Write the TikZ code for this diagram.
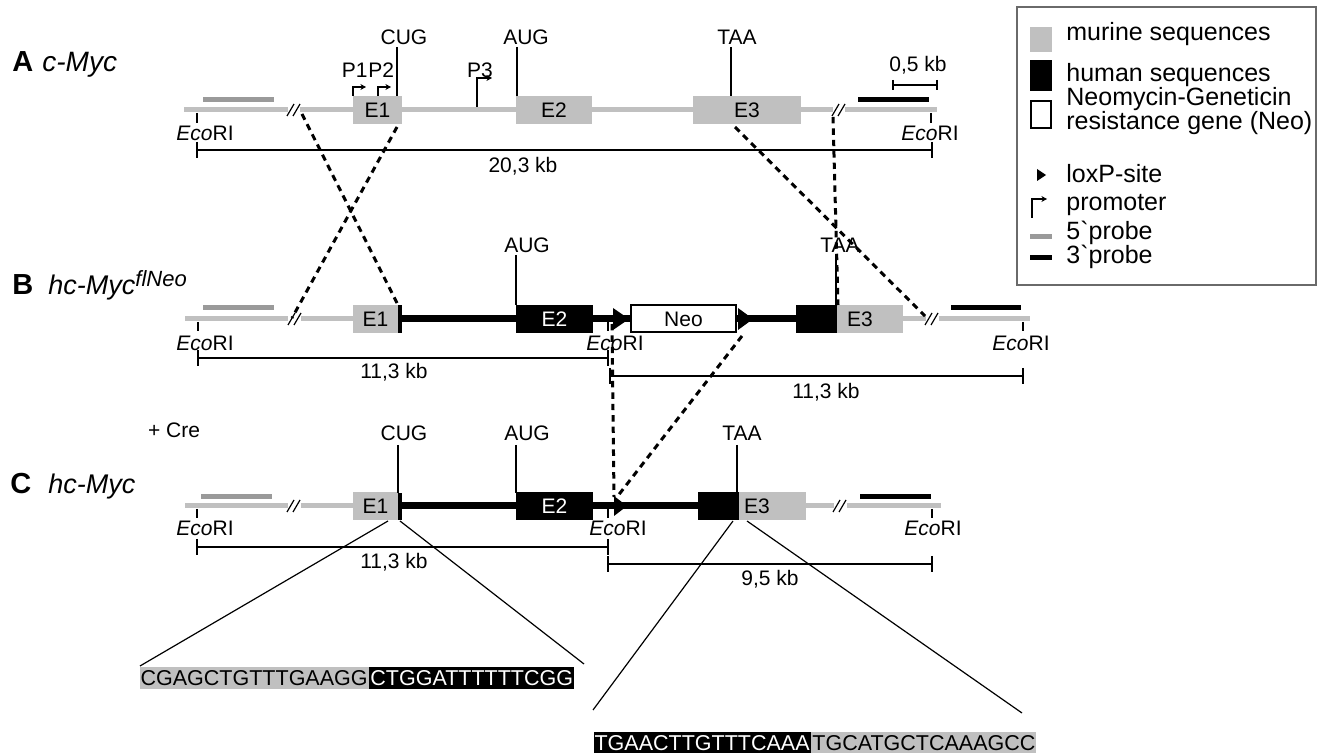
\documentclass[tikz,border=0pt]{standalone}
\usepackage{fontspec}
\setmainfont{Liberation Sans}
\usetikzlibrary{arrows.meta}
\definecolor{murgray}{HTML}{C0C0C0}
\definecolor{probegray}{HTML}{9A9A9A}
\definecolor{boxgray}{HTML}{6A6A6A}
\newcommand\brkmark[2]{%
  \draw[slash] ({#1-7},{#2+6}) -- ({#1},{#2-6});
  \draw[slash] ({#1-1},{#2+6}) -- ({#1+6},{#2-6});}
\begin{document}
\begin{tikzpicture}[x=0.5pt,y=-0.5pt,
  lbl/.style={font=\fontsize{10.5}{12}\selectfont, inner sep=0pt},
  leg/.style={font=\fontsize{12.5}{14}\selectfont, inner sep=0pt, anchor=west},
  rowlet/.style={font=\fontsize{14.5}{16}\selectfont\bfseries, inner sep=0pt, anchor=base west},
  rowname/.style={font=\fontsize{13.5}{16}\selectfont\itshape, inner sep=0pt, anchor=base west},
  bb/.style={line width=2.5pt, murgray},
  hb/.style={line width=3.5pt, black},
  pr5/.style={line width=2.5pt, probegray},
  pr3/.style={line width=2.5pt, black},
  sbar/.style={line width=1pt},
  thin/.style={line width=0.6pt},
  slash/.style={line width=0.6pt, black},
  dsh/.style={line width=1.5pt, dash pattern=on 3.2pt off 2.5pt},
  prom/.style={line width=0.6pt, -{Stealth[length=2.8pt,width=3pt]}},
  mex/.style={fill=murgray, draw=none, inner sep=0pt, minimum height=14pt, font=\fontsize{10.5}{12}\selectfont},
  hex/.style={fill=black, draw=none, inner sep=0pt, minimum height=14pt, text=white, font=\fontsize{10.5}{12}\selectfont},
  seqm/.style={fill=murgray, inner xsep=0.5pt, inner ysep=0pt, minimum height=11pt, font=\fontsize{10.75}{12}\selectfont},
  seqh/.style={fill=black, text=white, inner xsep=0.5pt, inner ysep=0pt, minimum height=11pt, font=\fontsize{10.75}{12}\selectfont},
]
\useasboundingbox (0,0) rectangle (1318,753);

% ---------------- Row A ----------------
\node[rowlet] (la) at (12,72) {A};
\node[rowname, font=\fontsize{14}{16}\selectfont\itshape] (na) at (42,72) {c-Myc};
\draw[pr5] (203,100) -- (274,100);
\draw[pr3] (858,100) -- (929,100);
\draw[bb] (184,110) -- (288,110);
\draw[bb] (300,110) -- (833,110);
\draw[bb] (845,110) -- (937,110);
\brkmark{294}{110}
\brkmark{839}{110}
\node[mex, minimum width=24.5pt] (a1) at (377.5,110) {E1};
\node[mex, minimum width=38pt] (a2) at (554,110) {E2};
\node[mex, minimum width=54pt] (a3) at (747,110) {E3};
% codons
\node[lbl] (cugA) at (404,37) {CUG};
\node[lbl] (augA) at (526,37) {AUG};
\node[lbl] (taaA) at (737,37) {TAA};
\draw[thin] (397,47) -- (397,96);
\draw[thin] (517,47) -- (517,96);
\draw[thin] (731,47) -- (731,96);
% promoters
\node[lbl, anchor=east] (p1) at (368,70) {P1};
\node[lbl, anchor=west] (p2) at (368,70) {P2};
\node[lbl] (p3) at (480,70) {P3};
\draw[prom] (353,96) -- (353,87) -- (366,87);
\draw[prom] (378,96) -- (378,87) -- (391,87);
\draw[prom] (477,107) -- (477,78) -- (492,78);
% EcoRI
\draw[thin] (197,113) -- (197,123);
\draw[thin] (931,113) -- (931,123);
\node[lbl] (eA1) at (205,133) {\textit{Eco}RI};
\node[lbl] (eA2) at (930,133) {\textit{Eco}RI};
% scale bars
\draw[sbar] (197,150) -- (932,150);
\draw[sbar] (197,142) -- (197,158);
\draw[sbar] (932,142) -- (932,158);
\node[lbl] (kbA) at (523,166) {20,3 kb};
\draw[thin] (893,85) -- (937,85);
\draw[thin] (893,80) -- (893,90);
\draw[thin] (937,80) -- (937,90);
\node[lbl] (halfkb) at (918,65) {0,5 kb};

% ---------------- Row B ----------------
\node[rowlet] (lb) at (12,295) {B};
\node[rowname] (nb) at (48,295) {hc-Myc\raisebox{4pt}{\fontsize{11}{12}\selectfont flNeo}};
\draw[pr5] (203,308) -- (274,308);
\draw[pr3] (951,308) -- (1021,308);
\draw[bb] (185,319) -- (288,319);
\draw[bb] (301,319) -- (354,319);
\draw[bb] (902,319) -- (926,319);
\draw[bb] (939,319) -- (1030,319);
\brkmark{295}{319}
\brkmark{932}{319}
\draw[hb] (402,319) -- (517,319);
\draw[hb] (592,319) -- (631,319);
\draw[hb] (736,319) -- (797,319);
\node[mex, minimum width=22.5pt] (b1) at (375.5,319) {E1};
\fill (398,305) rectangle (402,333);
\node[hex, minimum width=38.5pt] (b2) at (554.5,319) {E2};
\node[draw=black, line width=1pt, fill=white, inner sep=0pt, minimum width=52.5pt, minimum height=13.5pt, font=\fontsize{10.5}{12}\selectfont] (neo) at (683.5,319) {Neo};
\node[hex, minimum width=20.5pt] (b3h) at (816.5,319) {};
\node[mex, minimum width=33pt] (b3) at (870,319) {};
\node[lbl] (b3t) at (860,319) {E3};
\fill (613,308) -- (629,319) -- (613,330) -- cycle;
\fill (738,308) -- (753,319) -- (738,330) -- cycle;
\node[lbl] (augB) at (527,245) {AUG};
\node[lbl] (taaB) at (840,245) {TAA};
\draw[thin] (516,255) -- (516,305);
\draw[thin] (836,255) -- (836,305);
\draw[thin] (198,322) -- (198,331);
\draw[thin] (608,322) -- (608,331);
\draw[thin] (1023,322) -- (1023,331);
\node[lbl] (eB1) at (205,343) {\textit{Eco}RI};
\node[lbl] (eB2) at (615,343) {\textit{Eco}RI};
\node[lbl] (eB3) at (1021,343) {\textit{Eco}RI};
\draw[sbar] (198,358) -- (608,358);
\draw[sbar] (198,350) -- (198,366);
\draw[sbar] (608,350) -- (608,366);
\node[lbl] (kbB1) at (394,372) {11,3 kb};
\draw[sbar] (610,376) -- (1023,376);
\draw[sbar] (610,368) -- (610,384);
\draw[sbar] (1023,368) -- (1023,384);
\node[lbl] (kbB2) at (826,392) {11,3 kb};

% ---------------- Row C ----------------
\node[lbl] (cre) at (174,430) {+ Cre};
\node[rowlet] (lc) at (10,494) {C};
\node[rowname] (nc) at (48,494) {hc-Myc};
\draw[pr5] (201,497) -- (272,497);
\draw[pr3] (860,497) -- (931,497);
\draw[bb] (185,506) -- (288,506);
\draw[bb] (301,506) -- (354,506);
\draw[bb] (805,506) -- (834,506);
\draw[bb] (847,506) -- (941,506);
\brkmark{294}{506}
\brkmark{840}{506}
\draw[hb] (402,506) -- (517,506);
\draw[hb] (592,506) -- (699,506);
\node[mex, minimum width=22.5pt] (c1) at (375.5,506) {E1};
\fill (398,493) rectangle (402,520);
\node[hex, minimum width=38.5pt] (c2) at (554.5,506) {E2};
\node[hex, minimum width=20.5pt] (c3h) at (718.5,506) {};
\node[mex, minimum width=33.5pt] (c3) at (772.5,506) {};
\node[lbl] (c3t) at (757,506) {E3};
\fill (614,496) -- (627,506) -- (614,516) -- cycle;
\node[lbl] (cugC) at (404,433) {CUG};
\node[lbl] (augC) at (527,433) {AUG};
\node[lbl] (taaC) at (742,433) {TAA};
\draw[thin] (398,445) -- (398,493);
\draw[thin] (516,445) -- (516,493);
\draw[thin] (737,445) -- (737,493);
\draw[thin] (197,509) -- (197,518);
\draw[thin] (608,509) -- (608,518);
\draw[thin] (932,509) -- (932,518);
\node[lbl] (eC1) at (205,528) {\textit{Eco}RI};
\node[lbl] (eC2) at (618,528) {\textit{Eco}RI};
\node[lbl] (eC3) at (933,528) {\textit{Eco}RI};
\draw[sbar] (197,547) -- (608,547);
\draw[sbar] (197,539) -- (197,555);
\draw[sbar] (608,539) -- (608,555);
\node[lbl] (kbC1) at (394,562) {11,3 kb};
\draw[sbar] (608,564) -- (932,564);
\draw[sbar] (608,556) -- (608,572);
\draw[sbar] (932,556) -- (932,572);
\node[lbl] (kbC2) at (770,579) {9,5 kb};

% ---------------- sequences ----------------
\node[seqm, anchor=east] (s1m) at (369,678) {CGAGCTGTTTGAAGG};
\node[seqh, anchor=west] (s1h) at (369,678) {CTGGATTTTTTCGG};
\node[seqh, anchor=east] (s2h) at (811,743) {TGAACTTGTTTCAAA};
\node[seqm, anchor=west] (s2m) at (811,743) {TGCATGCTCAAAGCC};

% ---------------- connector end points ----------------
\coordinate (xa1) at (302,114);   \coordinate (xb1) at (398,305);
\coordinate (xa2) at (397,127);   \coordinate (xb2) at (292,318);
\coordinate (xa3) at (735,127);   \coordinate (xb3) at (925,316);
\coordinate (xa4) at (833,117);   \coordinate (xb4) at (838,305);
\coordinate (xb5) at (612,324);   \coordinate (xc5) at (614,497);
\coordinate (xb6) at (742,336);   \coordinate (xc6) at (617,497);
\coordinate (zc1) at (388,521);   \coordinate (zs1) at (140,666);
\coordinate (zc2) at (400,521);   \coordinate (zs2) at (584,664);
\coordinate (zc3) at (733,521);   \coordinate (zs3) at (593,710);
\coordinate (zc4) at (747,521);   \coordinate (zs4) at (1022,713);

\draw[dsh] (xa1) -- (xb1);
\draw[dsh] (xa2) -- (xb2);
\draw[dsh] (xa3) -- (xb3);
\draw[dsh] (xa4) -- (xb4);
\draw[dsh] (xb5) -- (xc5);
\draw[dsh] (xb6) -- (xc6);
\draw[thin] (zc1) -- (zs1);
\draw[thin] (zc2) -- (zs2);
\draw[thin] (zc3) -- (zs3);
\draw[thin] (zc4) -- (zs4);

% ---------------- legend ----------------
\draw[boxgray, line width=0.7pt] (1017,7) rectangle (1316,285);
\fill[murgray] (1030,27) rectangle (1052,52);
\fill[black] (1030,60) rectangle (1052,91);
\draw[black, line width=1.2pt, fill=white] (1031,101) rectangle (1051,128);
\fill (1037,169) -- (1046,175) -- (1037,181) -- cycle;
\draw[prom] (1032,218) -- (1032,199) -- (1047,199);
\draw[pr5] (1030,237) -- (1052,237);
\draw[pr3] (1030,258) -- (1052,258);
\node[leg] (t1) at (1066,34) {murine sequences};
\node[leg] (t2) at (1066,75) {human sequences};
\node[leg] (t3) at (1066,99) {Neomycin-Geneticin};
\node[leg] (t4) at (1066,123) {resistance gene (Neo)};
\node[leg] (t5) at (1066,174) {loxP-site};
\node[leg] (t6) at (1066,205) {promoter};
\node[leg] (t7) at (1066,233) {5\textasciigrave probe};
\node[leg] (t8) at (1066,257) {3\textasciigrave probe};
\end{tikzpicture}
\end{document}
